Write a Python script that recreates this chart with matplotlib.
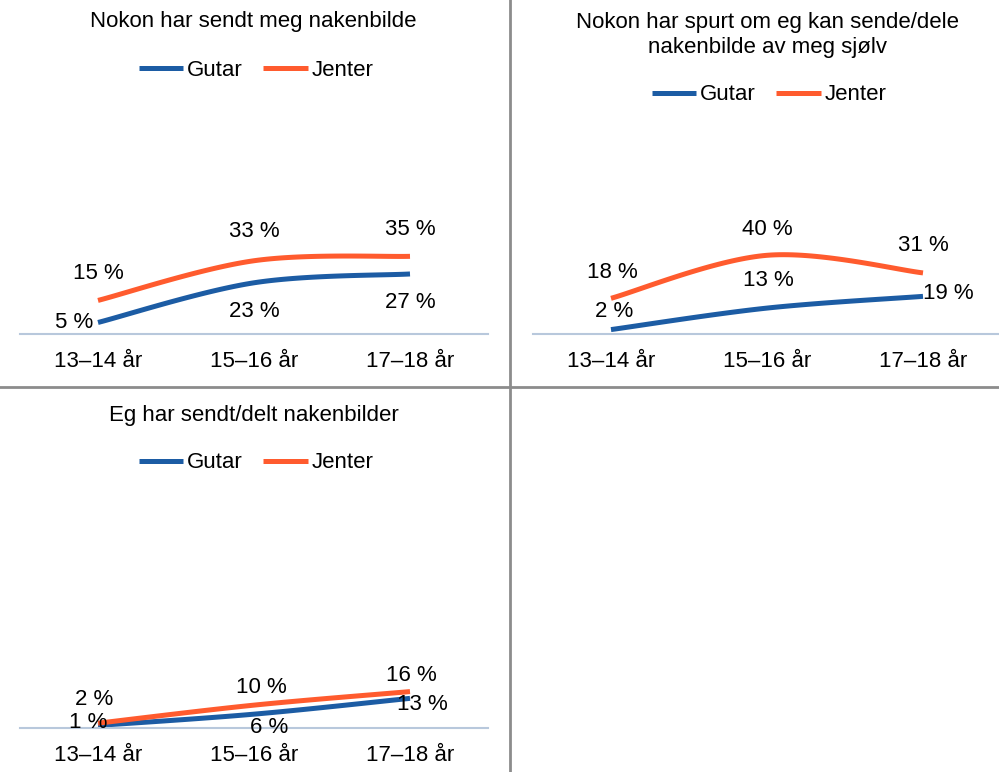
import numpy as np
import matplotlib
matplotlib.use("Agg")
import matplotlib.pyplot as plt
from matplotlib.lines import Line2D

plt.rcParams['font.family'] = ['Liberation Sans', 'DejaVu Sans']

categories = ["13–14 år", "15–16 år", "17–18 år"]
series_names = ["Gutar", "Jenter"]

titles = [
    "Nokon har sendt meg nakenbilde",
    "Nokon har spurt om eg kan sende/dele\nnakenbilde av meg sjølv",
    "Eg har sendt/delt nakenbilder",
]
gutar_1 = [5, 23, 27]
jenter_1 = [15, 33, 35]
gutar_2 = [2, 13, 19]
jenter_2 = [18, 40, 31]
gutar_3 = [1, 6, 13]
jenter_3 = [2, 10, 16]

BLUE = "#1C5CA4"
ORANGE = "#FF5B2E"
AXIS = "#B8C8DC"
SEP = "#8C8C8C"
FS = 16

W, H = 999, 772
fig = plt.figure(figsize=(W / 100, H / 100), dpi=100)

def fx(px):
    return px / W

def fy(py):
    return 1 - py / H

def smooth(xs, ys, n=40):
    xs = np.asarray(xs, float)
    ys = np.asarray(ys, float)
    P = np.column_stack([xs, ys])
    out = []
    for i in range(len(P) - 1):
        p0 = P[i - 1] if i > 0 else P[i]
        p1 = P[i]
        p2 = P[i + 1]
        p3 = P[i + 2] if i + 2 < len(P) else P[i + 1]
        c1 = p1 + (p2 - p0) / 6
        c2 = p2 - (p3 - p1) / 6
        t = np.linspace(0, 1, n)[:, None]
        seg = ((1 - t) ** 3) * p1 + 3 * ((1 - t) ** 2) * t * c1 + 3 * (1 - t) * t ** 2 * c2 + t ** 3 * p2
        out.append(seg if i == 0 else seg[1:])
    s = np.vstack(out)
    return s[:, 0], s[:, 1]

# panel geometry in pixels
panels = [
    dict(x0=20, x1=488, ytop=113, ybase=333.5, title_y=22, title_x=253, leg_y=70, leg_x=256,
         g=gutar_1, j=jenter_1,
         g_off=[(-24, 0), (0, -29), (0, -29)],
         j_off=[(0, 27), (0, 29), (0, 27)]),
    dict(x0=533, x1=1001, ytop=138, ybase=333.5, title_y=35, title_x=767, leg_y=95, leg_x=769,
         g=gutar_2, j=jenter_2,
         g_off=[(3, 18), (1, 28), (25, 3)],
         j_off=[(1, 26), (0, 26), (0, 27)]),
    dict(x0=20, x1=488, ytop=502, ybase=727.7, title_y=416, title_x=254, leg_y=463, leg_x=256,
         g=gutar_3, j=jenter_3,
         g_off=[(-10, 3), (15, -13), (12, -6)],
         j_off=[(-4, 24), (7, 18), (1, 16)]),
]

x = np.arange(len(categories))
for k, p in enumerate(panels):
    ax = fig.add_axes([fx(p['x0']), fy(p['ybase']), (p['x1'] - p['x0']) / W,
                       (p['ybase'] - p['ytop']) / H])
    ax.set_xlim(-0.5, len(categories) - 0.5)
    ax.set_ylim(0, 100)
    ax.patch.set_alpha(0)
    for side in ['top', 'right', 'left']:
        ax.spines[side].set_visible(False)
    ax.spines['bottom'].set_color(AXIS)
    ax.spines['bottom'].set_linewidth(1.5)
    ax.set_yticks([])
    ax.set_xticks(x)
    ax.set_xticklabels(categories, fontsize=FS, color="#000000")
    ax.tick_params(axis='x', length=0, pad=12.5)

    handles = []
    for vals, color, offs, name in [(p['g'], BLUE, p['g_off'], series_names[0]),
                                    (p['j'], ORANGE, p['j_off'], series_names[1])]:
        sx, sy = smooth(x, vals)
        ax.plot(sx, sy, color=color, lw=3.6, solid_capstyle='butt', clip_on=False)
        handles.append(Line2D([0], [0], color=color, lw=3.6, solid_capstyle='butt', label=name))
        for xi, v, (dx, dy) in zip(x, vals, offs):
            ax.annotate(f"{v} %", (xi, v), xytext=(dx, dy), textcoords='offset pixels',
                        ha='center', va='center', fontsize=FS, color="#000000",
                        annotation_clip=False)

    fig.text(fx(p['title_x']), fy(p['title_y']), titles[k], ha='center', va='center',
             fontsize=FS, linespacing=1.2)
    fig.legend(handles=handles, loc='center', bbox_to_anchor=(fx(p['leg_x']), fy(p['leg_y'])),
               ncol=2, frameon=False, fontsize=FS, handlelength=2.0, handletextpad=0.15,
               columnspacing=0.95, borderaxespad=0, borderpad=0)

# separators
fig.add_artist(Line2D([fx(510), fx(510)], [0, 1], color=SEP, lw=2, transform=fig.transFigure))
fig.add_artist(Line2D([0, 1], [fy(386.5), fy(386.5)], color=SEP, lw=2, transform=fig.transFigure))

fig.savefig("out.png", dpi=100, facecolor="white")
